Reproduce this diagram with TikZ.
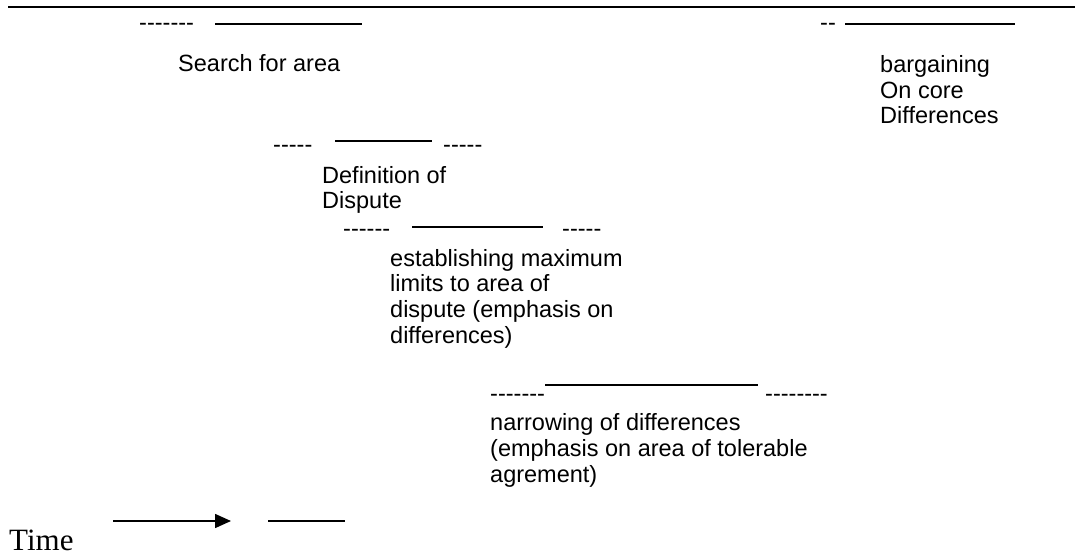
\documentclass[tikz,border=0pt]{standalone}
\usepackage{fontspec}
\setmainfont{Liberation Sans}
\newfontfamily\timesfont{Liberation Serif}
\usetikzlibrary{arrows.meta}
% a hyphen that never joins with its neighbour into a dash ligature
\newcommand\hyph{-\kern0pt\relax}
\begin{document}
\begin{tikzpicture}[x=1pt,y=-1pt,
  lbl/.style={inner sep=0pt, anchor=base west, align=left, font=\fontsize{23.5}{25.8}\selectfont},
  rulebar/.style={line width=1.6pt},
  toprule/.style={line width=2.2pt}]
\useasboundingbox (0,0) rectangle (1075,556);
\fill[white] (0,0) rectangle (1075,556);
% top rule
\coordinate (tl) at (8,7);
\coordinate (tr) at (1075,7);
\draw[toprule] (tl) -- (tr);
% row 1
\node[lbl] (d1a) at (139,31) {\hyph\hyph\hyph\hyph\hyph\hyph\hyph};
\coordinate (l1a) at (215,24); \coordinate (l1b) at (362,24);
\draw[rulebar] (l1a) -- (l1b);
\node[lbl] (search) at (178,72) {Search for area};
\node[lbl] (d1b) at (820,31) {\hyph\hyph};
\coordinate (l1c) at (845,24); \coordinate (l1d) at (1015,24);
\draw[rulebar] (l1c) -- (l1d);
\node[lbl] (barg) at (880,124) {bargaining\\On core\\Differences};
% row 2
\node[lbl] (d2a) at (273,153) {\hyph\hyph\hyph\hyph\hyph};
\coordinate (l2a) at (335,141); \coordinate (l2b) at (432,141);
\draw[rulebar] (l2a) -- (l2b);
\node[lbl] (d2b) at (443,153) {\hyph\hyph\hyph\hyph\hyph};
\node[lbl] (defn) at (322,208.8) {Definition of\\Dispute};
% row 3
\node[lbl] (d3a) at (343,236) {\hyph\hyph\hyph\hyph\hyph\hyph};
\coordinate (l3a) at (412,227); \coordinate (l3b) at (543,227);
\draw[rulebar] (l3a) -- (l3b);
\node[lbl] (d3b) at (562,236) {\hyph\hyph\hyph\hyph\hyph};
\node[lbl] (estab) at (390,343.4) {establishing maximum\\limits to area of\\dispute (emphasis on\\differences)};
% row 4
\node[lbl] (d4a) at (490,401) {\hyph\hyph\hyph\hyph\hyph\hyph\hyph};
\coordinate (l4a) at (545,385); \coordinate (l4b) at (758,385);
\draw[rulebar] (l4a) -- (l4b);
\node[lbl] (d4b) at (765,401) {\hyph\hyph\hyph\hyph\hyph\hyph\hyph\hyph};
\node[lbl] (narrow) at (490,482) {narrowing of differences\\(emphasis on area of tolerable\\agrement)};
% time
\node[inner sep=0pt, anchor=base west, font=\timesfont\fontsize{31}{34}\selectfont] (time) at (9,550) {Time};
\coordinate (a1) at (113,521); \coordinate (a2) at (231,521);
\draw[rulebar, -{Triangle[length=16pt,width=14pt]}] (a1) -- (a2);
\coordinate (a3) at (268,521); \coordinate (a4) at (345,521);
\draw[rulebar] (a3) -- (a4);
\end{tikzpicture}
\end{document}
